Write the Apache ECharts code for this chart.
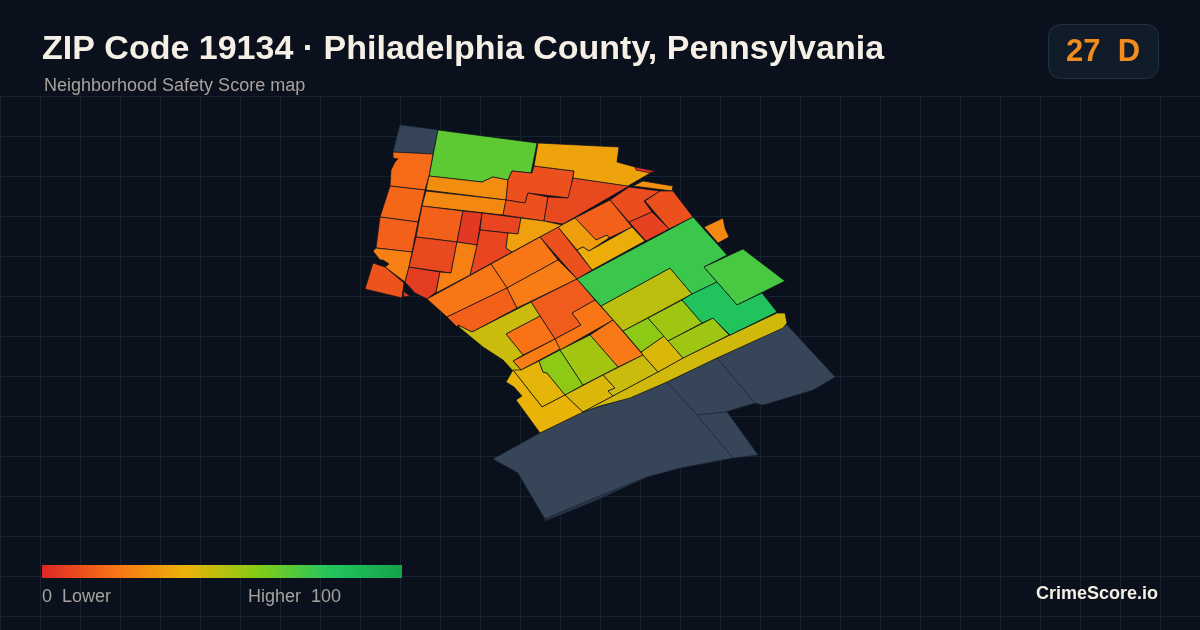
<!DOCTYPE html>
<html><head><meta charset="utf-8">
<style>html,body{margin:0;padding:0;background:#0a111c}#c{width:1200px;height:630px}</style>
<script src="https://cdn.jsdelivr.net/npm/echarts@6/dist/echarts.min.js"></script>
</head><body><div id="c"></div>
<script>
// Score colour ramp and legend wording
const rampColors = ['#dc2626','#f97316','#eab308','#84cc16','#22c55e','#16a34a'];
const titleText = 'ZIP Code 19134 · Philadelphia County, Pennsylvania';
const subtitleText = 'Neighborhood Safety Score map';
const overallScore = '27  D';
const legendLow = '0  Lower';
const legendHigh = 'Higher  100';
const brand = 'CrimeScore.io';

// Zones without a score (grey)
const unscoredZones = {
  n1:[[400,125],[438,130],[433,154],[393,152]],
  s1:[[493,459],[540,433],[582,412],[625,399],[667,382],[697,415],[733,458],[680,468],[647,477],[597,497],[545,519],[518,473],[513,470]],
  s2:[[667,382],[717,358],[755,403],[725,412],[697,415]],
  s3:[[717,358],[787,325],[835,377],[813,390],[763,405],[755,403]],
  s4:[[697,415],[727,412],[758,455],[733,458]],
  s5:[[647,477],[597,497],[545,519],[545,521],[597,500]]
};

// Scored zones: outline per zone (map units)
const zoneOutlines = {
  a:[[438,130],[537,143],[531,173],[512,171],[508,180],[493,177],[482,182],[429,176]],
  b:[[393,152],[433,154],[429,176],[425,190],[390,186],[391,170],[395,162],[398,159],[393,158]],
  c:[[390,186],[425,190],[418,222],[380,217]],
  d:[[380,217],[418,222],[412,252],[376,248]],
  e:[[376,248],[412,252],[409,267],[405,282],[385,267],[389,264],[383,260],[380,260],[373,251]],
  f:[[373,263],[385,267],[404,283],[402,298],[365,289]],
  g:[[409,267],[440,272],[436,292],[427,299],[415,293],[405,282]],
  g2:[[403,291],[410,296],[404,297]],
  h:[[429,176],[482,182],[493,177],[508,180],[506,200],[426,190]],
  i:[[426,191],[506,200],[503,215],[422,206]],
  j:[[422,206],[463,211],[457,242],[416,237]],
  k:[[463,211],[482,213],[477,245],[457,242]],
  l:[[482,213],[521,218],[518,234],[480,230]],
  m:[[480,230],[508,233],[506,248],[512,252],[470,275],[477,245]],
  n:[[416,237],[457,242],[451,273],[409,267]],
  o:[[457,242],[477,245],[470,275],[436,293],[440,272],[451,273]],
  p:[[512,171],[532,173],[534,166],[574,171],[569,198],[528,193],[525,203],[506,200],[508,180]],
  q:[[506,200],[525,203],[528,193],[548,197],[544,221],[503,215]],
  r:[[573,178],[629,186],[563,224],[544,221],[548,197],[568,198]],
  u:[[538,143],[619,147],[617,162],[635,167],[652,172],[628,186],[573,178],[574,171],[534,166]],
  u2:[[635,167],[655,171],[650,173],[636,170]],
  v:[[643,181],[673,186],[672,191],[633,186]],
  w:[[629,187],[660,191],[644,201],[652,212],[629,222],[610,200]],
  x:[[660,191],[673,191],[693,217],[669,229],[645,201]],
  y:[[629,222],[652,212],[669,229],[646,241]],
  z:[[575,218],[610,200],[632,227],[609,238],[607,235],[596,240]],
  aa:[[558,227],[575,218],[596,240],[607,235],[609,238],[589,251],[583,247],[577,250]],
  ab:[[577,250],[583,247],[589,251],[632,227],[645,241],[592,270]],
  ac:[[540,237],[558,227],[592,270],[577,279]],
  ad:[[521,218],[544,221],[562,225],[512,252],[506,248],[508,233],[518,234]],
  ae:[[491,264],[540,237],[558,260],[507,288]],
  af:[[427,299],[491,264],[507,288],[447,317]],
  ag:[[447,317],[507,288],[517,308],[472,332],[458,325],[457,327]],
  ah:[[507,288],[558,260],[577,279],[517,308]],
  ai:[[531,302],[577,279],[595,300],[572,313],[581,325],[555,339]],
  aj:[[595,300],[613,320],[560,350],[555,339],[581,325],[572,313]],
  ak:[[613,320],[643,355],[618,367],[590,335]],
  al:[[506,334],[517,328],[540,316],[555,339],[523,355]],
  am:[[513,361],[555,339],[560,349],[521,370]],
  an:[[458,325],[472,332],[531,302],[540,316],[517,328],[506,334],[523,355],[513,361],[521,370],[514,372],[503,360],[483,347],[460,328]],
  ao:[[521,370],[539,361],[543,372],[547,373],[565,395],[542,407],[513,370]],
  ap:[[539,361],[560,350],[583,385],[565,395],[547,373],[543,372]],
  aq:[[560,350],[590,335],[618,367],[583,385]],
  ar:[[506,382],[513,370],[542,407],[565,395],[583,412],[540,433],[516,400],[522,396],[514,387]],
  as:[[565,395],[603,375],[615,388],[608,391],[613,396],[583,412]],
  at:[[603,375],[643,355],[658,372],[613,396],[608,391],[615,388]],
  au:[[583,412],[613,396],[658,372],[683,358],[728,336],[777,313],[785,313],[787,323],[783,328],[717,358],[667,382],[630,398],[600,406]],
  av:[[641,352],[664,336],[683,358],[658,372],[643,355]],
  aw:[[623,331],[648,318],[664,336],[641,352]],
  ax:[[648,318],[682,300],[702,323],[668,341]],
  ay:[[668,341],[713,318],[729,335],[683,358]],
  az:[[601,306],[670,268],[692,294],[623,331]],
  ba:[[577,279],[693,217],[727,255],[704,267],[717,282],[692,294],[670,268],[601,306]],
  bb:[[704,267],[743,249],[785,281],[737,305]],
  bc:[[682,300],[692,294],[717,282],[737,305],[762,293],[777,312],[730,335],[713,318],[702,323]],
  bd:[[704,227],[723,218],[725,228],[729,237],[718,243]]
};

// Neighborhood Safety Score per zone
const zoneScores = {
  a:68,b:18,c:17,d:15,e:24,f:12,g:6,g2:6,h:28,i:27,j:15,k:5,l:8,m:8,n:9,o:24,p:11,q:11,r:9,
  u:35,u2:3,v:29,w:10,x:11,y:7,z:15,aa:33,ab:38,ac:11,ad:34,ae:21,af:21,ag:15,ah:23,ai:14,aj:21,
  ak:22,al:20,am:23,an:46,ao:41,ap:58,aq:54,ar:40,as:43,at:46,au:45,av:43,aw:58,ax:55,ay:55,az:49,
  ba:75,bb:72,bc:81,bd:27
};

const toFeature = (name, ring) => ({
  type:'Feature', properties:{name},
  geometry:{type:'Polygon', coordinates:[ring.concat([ring[0]]).map(p => [p[0], 630 - p[1]])]}
});
const features = [];
Object.keys(unscoredZones).forEach(k => features.push(toFeature(k, unscoredZones[k])));
Object.keys(zoneOutlines).forEach(k => features.push(toFeature(k, zoneOutlines[k])));
echarts.registerMap('zip19134', {type:'FeatureCollection', features});

const mapData = Object.keys(zoneScores).map(k => ({name:k, value:zoneScores[k]}));
const unscoredData = Object.keys(unscoredZones).map(k => ({
  name:k, value:null,
  itemStyle:{areaColor: k === 's5' ? '#2a3547' : '#374559', borderColor:'#1d2838', borderWidth:0.6}
}));

const chart = echarts.init(document.getElementById('c'), null, {renderer:'canvas', width:1200, height:630});
const sans = '"Liberation Sans", Arial, sans-serif';
const gridLine = {show:true, lineStyle:{color:'#15242f', width:1}};
const rampStops = rampColors.map((color, i) => ({offset:i / (rampColors.length - 1), color}));
chart.setOption({
  animation:false,
  backgroundColor:'#0a111c',
  grid:{left:0, top:96, width:1200, height:534, show:false},
  xAxis:{type:'value', min:0, max:1200, interval:40, axisLine:{show:false}, axisTick:{show:false}, axisLabel:{show:false}, splitLine:gridLine},
  yAxis:{type:'value', inverse:true, min:0, max:534, interval:40, axisLine:{show:false}, axisTick:{show:false}, axisLabel:{show:false}, splitLine:gridLine},
  visualMap:{
    type:'continuous', min:0, max:100, show:false,
    seriesIndex:0, inRange:{color:rampColors}, outOfRange:{color:'#374559'}
  },
  series:[{
    type:'map', map:'zip19134', silent:true, roam:false, selectedMode:false, z:5,
    left:0, top:0, width:1200, height:630, aspectScale:1,
    boundingCoords:[[0,630],[1200,0]],
    label:{show:false},
    itemStyle:{borderColor:'#0a111c', borderWidth:0.7, borderJoin:'miter', areaColor:'#374559'},
    emphasis:{disabled:true},
    data:unscoredData.concat(mapData)
  }],
  graphic:[
    {type:'text', z:10, left:42, top:33, style:{text:titleText, fill:'#f5efe6', font:'bold 34px '+sans}},
    {type:'text', z:10, left:44, top:77, style:{text:subtitleText, fill:'#a8a29e', font:'18px '+sans}},
    {type:'rect', z:9, shape:{x:1048.5, y:24.5, width:110, height:54, r:12}, style:{fill:'#111c2a', stroke:'#243040', lineWidth:1}},
    {type:'text', z:10, x:1103, y:52, style:{text:overallScore, fill:'#f28c1e', font:'bold 31px '+sans, align:'center', verticalAlign:'middle'}},
    {type:'rect', z:9, shape:{x:42, y:565, width:360, height:13}, style:{fill:new echarts.graphic.LinearGradient(0,0,1,0,rampStops)}},
    {type:'text', z:10, x:42, y:597, style:{text:legendLow, fill:'#a8a29e', font:'18px '+sans, verticalAlign:'middle'}},
    {type:'text', z:10, x:341, y:597, style:{text:legendHigh, fill:'#a8a29e', font:'18px '+sans, align:'right', verticalAlign:'middle'}},
    {type:'text', z:10, x:1158, y:594, style:{text:brand, fill:'#f5efe6', font:'bold 18px '+sans, align:'right', verticalAlign:'middle'}}
  ]
});
</script></body></html>
